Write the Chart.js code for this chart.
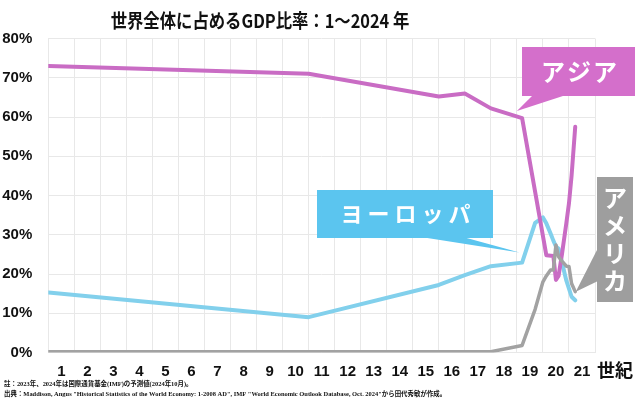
<!DOCTYPE html>
<html>
<head>
<meta charset="utf-8">
<script src="https://cdn.jsdelivr.net/npm/chart.js@4.4.1/dist/chart.umd.min.js"></script>
<style>
html,body{margin:0;padding:0;background:#fff;}
#wrap{position:relative;width:640px;height:418px;}
</style>
</head>
<body>
<div id="wrap"><canvas id="c" width="640" height="418"></canvas></div>
<script>
// ---- data ----
const years = [1, 1000, 1500, 1600, 1700, 1820, 1870, 1900, 1913, 1929, 1940, 1950, 1960, 1973, 1990, 2000, 2010, 2024];
const asiaShare   = [73.0, 71.0, 65.2, 66.0, 62.2, 59.7, null, null, 24.8, null, 24.6, 18.5, 19.5, 25.0, 33.0, 38.0, 45.0, 57.5];
const europeShare = [15.3, 9.0, 17.2, 19.7, 22.0, 22.9, 33.0, 34.4, 32.9, 30.4, 28.5, 27.0, 26.5, 23.0, 18.3, 16.3, 14.2, 13.3];
const usaShare    = [0.2, 0.2, 0.2, 0.2, 0.2, 1.8, 11.0, 18.0, 19.5, 21.0, 21.0, 27.4, 24.4, 23.3, 22.0, 21.9, 17.6, 15.5];
const centuryLabels = ['1','2','3','4','5','6','7','8','9','10','11','12','13','14','15','16','17','18','19','20','21'];
const centuryMidYears = [50,150,250,350,450,550,650,750,850,950,1050,1150,1250,1350,1450,1550,1650,1750,1850,1950,2050];
const yTicks = [0,10,20,30,40,50,60,70,80];

const titleText = '世界全体に占めるGDP比率：1〜2024 年';
const note1 = '註：2023年、2024年は国際通貨基金(IMF)の予測値(2024年10月)。';
const note2 = '出典：Maddison, Angus "Historical Statistics of the World Economy: 1-2008 AD", IMF "World Economic Outlook Database, Oct. 2024"から田代秀敏が作成。';

function pts(vals){ return years.map((y,i)=>({x:y, y:vals[i]})); }

const JP = '"Noto Sans CJK JP", sans-serif';
const NUM = '"Liberation Sans", Arial, sans-serif';

const overlay = {
  id: 'overlay',
  afterDatasetsDraw(chart){
    const ctx = chart.ctx, xs = chart.scales.x, ys = chart.scales.y;
    function callout(box, base, tip, color){
      ctx.save();
      ctx.fillStyle = color;
      ctx.fillRect(box[0], box[1], box[2], box[3]);
      ctx.beginPath();
      ctx.moveTo(base[0][0], base[0][1]);
      ctx.lineTo(base[1][0], base[1][1]);
      ctx.lineTo(xs.getPixelForValue(tip[0]), ys.getPixelForValue(tip[1]));
      ctx.closePath();
      ctx.fill();
      ctx.restore();
    }
    callout([522,47,113,49], [[533,95],[566,95]], [1800,61.5], '#d46fcb');
    callout([317,190,176,48], [[421,237],[463,237]], [1810,25.5], '#5bc5ef');
    callout([597,177,36,125], [[598,248],[598,281]], [2026,15.5], '#9e9e9e');

    ctx.save();
    ctx.fillStyle = '#fff';
    ctx.textAlign = 'center';
    ctx.textBaseline = 'middle';
    ctx.font = 'bold 24px ' + JP;
    try{ ctx.letterSpacing = '2px'; }catch(e){}
    ctx.fillText('アジア', 580, 72);
    ctx.font = 'bold 22px ' + JP;
    try{ ctx.letterSpacing = '5px'; }catch(e){}
    ctx.fillText('ヨーロッパ', 408, 214);
    try{ ctx.letterSpacing = '0px'; }catch(e){}
    ctx.font = 'bold 24px ' + JP;
    const v = ['ア','メ','リ','カ'], vy = [198, 226, 253, 281];
    v.forEach((ch,i)=>ctx.fillText(ch, 615, vy[i]));
    ctx.restore();
  },
  afterDraw(chart){
    const ctx = chart.ctx, xs = chart.scales.x;
    ctx.save();
    ctx.fillStyle = '#111';
    ctx.textBaseline = 'middle';
    ctx.save();
    ctx.translate(260, 21);
    ctx.scale(0.86, 1);
    ctx.textAlign = 'center';
    ctx.font = 'bold 19px ' + JP;
    ctx.fillText(titleText, 0, 0);
    ctx.restore();
    ctx.textAlign = 'center';
    ctx.font = 'bold 18px ' + JP;
    ctx.fillText('世紀', xs.right + 20, 370);
    ctx.textAlign = 'left';
    ctx.save();
    ctx.translate(4, 0);
    ctx.scale(0.92, 1);
    ctx.font = 'bold 7px "Liberation Serif", "Noto Sans CJK JP", serif';
    ctx.fillText(note1, 0, 384.5);
    ctx.fillText(note2, 0, 394);
    ctx.restore();
    ctx.restore();
  }
};

new Chart(document.getElementById('c'), {
  type: 'line',
  data: {
    datasets: [
      { label: 'アメリカ', data: pts(usaShare), borderColor: '#a2a2a2', borderWidth: 3.5 },
      { label: 'アジア', data: pts(asiaShare), borderColor: '#c96cc4', borderWidth: 4 },
      { label: 'ヨーロッパ', data: pts(europeShare), borderColor: '#82d0ec', borderWidth: 4 }
    ]
  },
  options: {
    responsive: false,
    animation: false,
    devicePixelRatio: 1,
    spanGaps: true,
    elements: {
      point: { radius: 0 },
      line: { tension: 0, borderJoinStyle: 'round', borderCapStyle: 'round', fill: false }
    },
    layout: { padding: { top: 38.5, right: 45, left: 0, bottom: 0 } },
    plugins: { legend: { display: false }, tooltip: { enabled: false }, title: { display: false } },
    scales: {
      x: {
        type: 'linear', min: 0, max: 2100, weight: 0,
        ticks: { display: false, stepSize: 100 },
        grid: { color: '#e8e8e8', lineWidth: 1, drawTicks: false },
        border: { display: false },
        afterFit(s){ s.height = 0; }
      },
      x2: {
        type: 'linear', position: 'bottom', min: 0, max: 2100, weight: 1,
        grid: { display: false, drawTicks: false },
        border: { display: false },
        afterBuildTicks(s){ s.ticks = centuryMidYears.map(v=>({value:v})); },
        ticks: {
          autoSkip: false, maxRotation: 0, padding: 10, color: '#111',
          font: { family: NUM, size: 15, weight: 'bold' },
          callback(v){ const i = centuryMidYears.indexOf(v); return i >= 0 ? centuryLabels[i] : ''; }
        },
        afterFit(s){ s.height = 65.5; }
      },
      y: {
        min: 0, max: 80,
        afterBuildTicks(s){ s.ticks = yTicks.map(v=>({value:v})); },
        ticks: {
          padding: 16, color: '#111',
          font: { family: NUM, size: 15, weight: 'bold' },
          callback(v){ return v + '%'; }
        },
        grid: { color: '#e8e8e8', lineWidth: 1, drawTicks: false },
        border: { display: false },
        afterFit(s){ s.width = 48.3; }
      }
    }
  },
  plugins: [overlay]
});
</script>
</body>
</html>
